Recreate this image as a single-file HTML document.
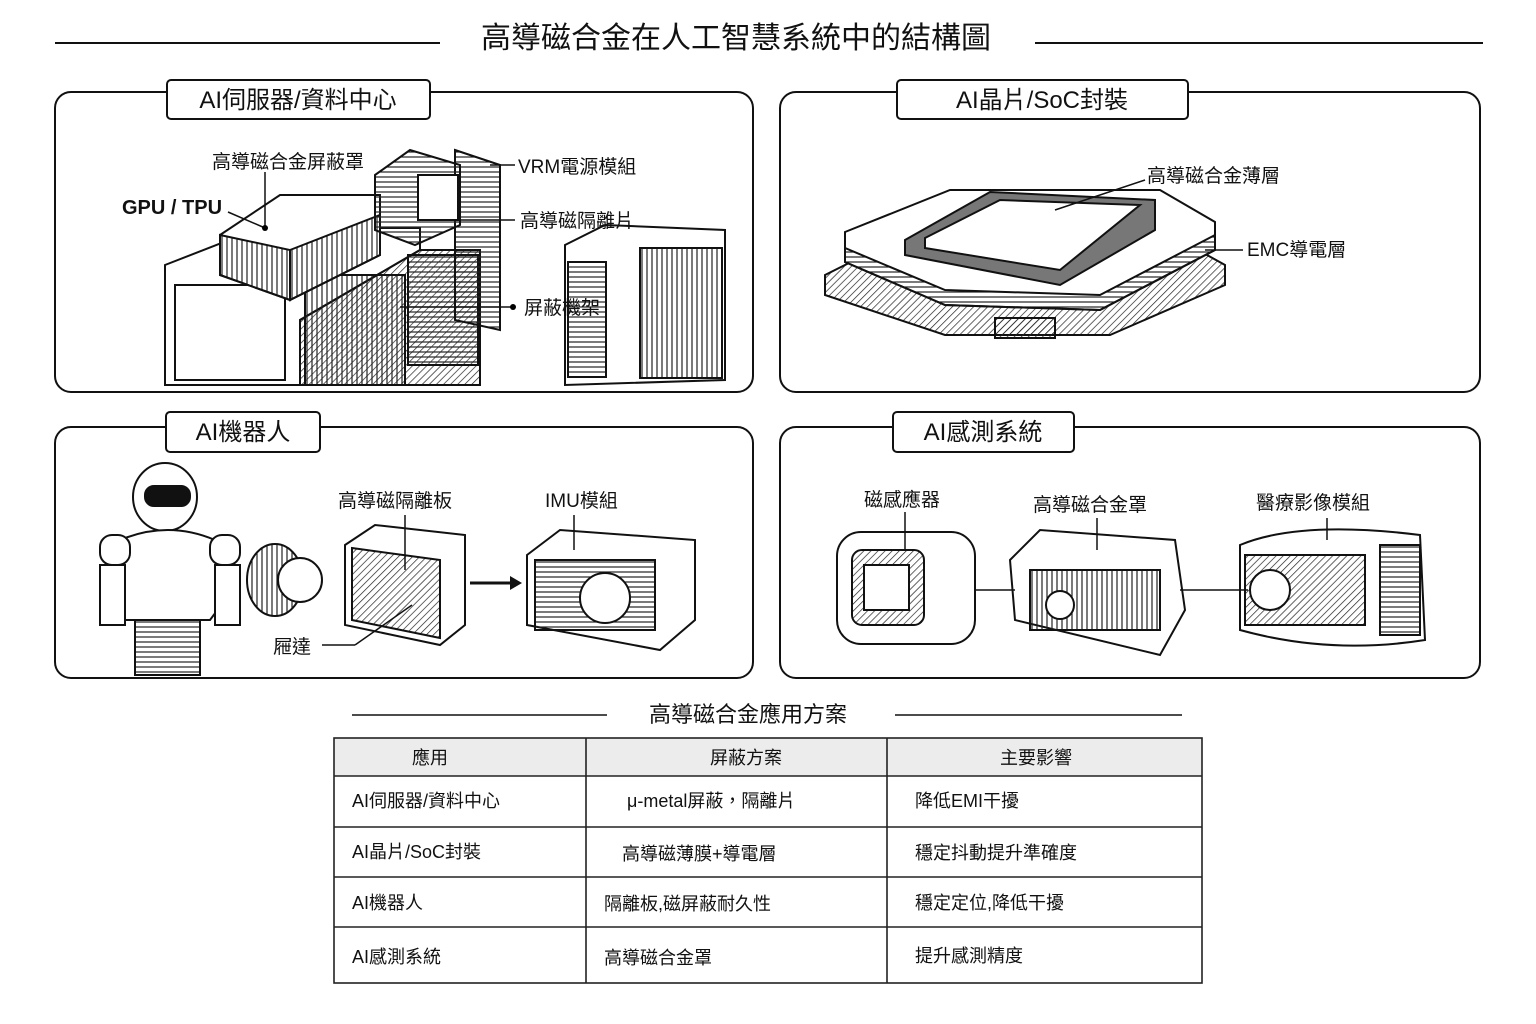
<!DOCTYPE html>
<html><head><meta charset="utf-8"><style>
html,body{margin:0;padding:0;background:#fff;}
svg{display:block;}
text{font-family:"Liberation Sans","Noto Sans CJK TC",sans-serif;fill:#111;}
</style></head><body>
<svg width="1536" height="1024" viewBox="0 0 1536 1024" xmlns="http://www.w3.org/2000/svg">
<defs>
<pattern id="h" width="5" height="5" patternUnits="userSpaceOnUse" patternTransform="rotate(45)"><line x1="0" y1="0" x2="0" y2="5" stroke="#222" stroke-width="1.4"/></pattern>
<pattern id="v" width="5" height="5" patternUnits="userSpaceOnUse"><line x1="0" y1="2" x2="5" y2="2" stroke="#222" stroke-width="1.2"/></pattern>
<pattern id="vv" width="5" height="5" patternUnits="userSpaceOnUse"><line x1="2" y1="0" x2="2" y2="5" stroke="#222" stroke-width="1.2"/></pattern>
</defs>
<!-- title -->
<line x1="55" y1="43" x2="440" y2="43" stroke="#111" stroke-width="2"/>
<line x1="1035" y1="43" x2="1483" y2="43" stroke="#111" stroke-width="2"/>
<text x="736" y="48" font-size="30" text-anchor="middle">高導磁合金在人工智慧系統中的結構圖</text>

<g fill="none" stroke="#111" stroke-width="2">
<rect x="55" y="92" width="698" height="300" rx="16"/>
<rect x="780" y="92" width="700" height="300" rx="16"/>
<rect x="55" y="427" width="698" height="251" rx="16"/>
<rect x="780" y="427" width="700" height="251" rx="16"/>
</g>
<g fill="#fff" stroke="#111" stroke-width="2">
<rect x="167" y="80" width="263" height="39" rx="4"/>
<rect x="897" y="80" width="291" height="39" rx="4"/>
<rect x="166" y="412" width="154" height="40" rx="4"/>
<rect x="893" y="412" width="181" height="40" rx="4"/>
</g>
<text x="298" y="108" font-size="24" text-anchor="middle">AI伺服器/資料中心</text>
<text x="1042" y="108" font-size="24" text-anchor="middle">AI晶片/SoC封裝</text>
<text x="243" y="440" font-size="24" text-anchor="middle">AI機器人</text>
<text x="983" y="440" font-size="24" text-anchor="middle">AI感測系統</text>

<!-- Panel1 illustration -->
<g stroke="#111" stroke-width="2" fill="#fff">
<polygon points="165,265 260,228 420,228 420,250 300,320 300,385 165,385"/>
<polygon points="300,320 420,250 480,250 480,385 300,385" fill="url(#h)"/>
<rect x="305" y="275" width="100" height="110" fill="url(#vv)"/>
<rect x="408" y="255" width="70" height="110" fill="url(#v)"/>
<rect x="175" y="285" width="110" height="95"/>
<polygon points="455,150 500,165 500,330 455,320" fill="url(#v)"/>
<polygon points="220,235 280,195 380,195 380,255 290,300 220,275"/>
<polygon points="220,235 290,250 290,300 220,275" fill="url(#vv)"/>
<polygon points="290,250 380,215 380,255 290,300" fill="url(#vv)"/>
<polygon points="375,175 410,150 460,165 460,225 415,245 375,230" fill="url(#v)"/>
<rect x="418" y="175" width="40" height="45"/>
<polygon points="565,245 605,225 725,230 725,380 565,385"/>
<rect x="568" y="262" width="38" height="115" fill="url(#v)"/>
<rect x="640" y="248" width="82" height="130" fill="url(#vv)"/>
</g>
<g stroke="#111" stroke-width="1.5" fill="none">
<line x1="265" y1="172" x2="265" y2="228"/><line x1="228" y1="212" x2="265" y2="228"/>
<line x1="490" y1="165" x2="515" y2="165"/><line x1="455" y1="220" x2="515" y2="220"/>
<line x1="400" y1="307" x2="515" y2="307"/>
</g>
<circle cx="265" cy="228" r="3"/><circle cx="513" cy="307" r="3"/>
<text x="212" y="168" font-size="19">高導磁合金屏蔽罩</text>
<text x="122" y="214" font-size="20" font-weight="bold">GPU / TPU</text>
<text x="518" y="173" font-size="19">VRM電源模組</text>
<text x="520" y="227" font-size="19">高導磁隔離片</text>
<text x="524" y="314" font-size="19">屏蔽機架</text>

<!-- Panel2 -->
<g stroke="#111" stroke-width="2">
<polygon points="825,275 895,240 1180,240 1225,265 1225,285 1110,335 945,335 825,295" fill="url(#h)"/>
<polygon points="845,232 950,190 1160,190 1215,222 1215,250 1100,310 945,305 845,262" fill="#fff"/>
<polygon points="845,262 945,305 1100,310 1215,250 1215,235 1100,295 945,290 845,248" fill="url(#v)"/>
<polygon points="905,240 990,192 1155,200 1155,230 1060,285 905,255" fill="#777"/>
<polygon points="925,238 1000,200 1140,205 1060,270 925,248" fill="#fff"/>
<rect x="995" y="318" width="60" height="20" fill="url(#h)"/>
</g>
<line x1="1055" y1="210" x2="1145" y2="180" stroke="#111" stroke-width="1.5"/>
<line x1="1205" y1="250" x2="1243" y2="250" stroke="#111" stroke-width="1.5"/>
<text x="1147" y="182" font-size="19">高導磁合金薄層</text>
<text x="1247" y="256" font-size="19">EMC導電層</text>

<!-- Panel3 robot -->
<g stroke="#111" stroke-width="2" fill="#fff">
<ellipse cx="165" cy="497" rx="32" ry="34"/>
<rect x="145" y="486" width="45" height="20" rx="9" fill="#111"/>
<path d="M120,540 Q168,520 215,540 L225,600 L210,620 L125,620 L110,600 Z"/>
<rect x="100" y="535" width="30" height="30" rx="12"/><rect x="210" y="535" width="30" height="30" rx="12"/>
<rect x="100" y="565" width="25" height="60"/><rect x="215" y="565" width="25" height="60"/>
<rect x="135" y="620" width="65" height="55" fill="url(#v)"/>
<ellipse cx="275" cy="580" rx="28" ry="36" fill="url(#vv)"/>
<circle cx="300" cy="580" r="22"/>
<polygon points="345,545 375,525 465,535 465,625 440,645 345,625"/>
<polygon points="352,548 440,560 440,638 352,620" fill="url(#h)"/>
<polygon points="527,555 560,530 695,540 695,620 660,650 527,625"/>
<rect x="535" y="560" width="120" height="70" fill="url(#v)"/>
<ellipse cx="605" cy="598" rx="25" ry="25" fill="#fff"/>
</g>
<line x1="470" y1="583" x2="515" y2="583" stroke="#111" stroke-width="3"/>
<polygon points="522,583 510,576 510,590" fill="#111"/>
<g stroke="#111" stroke-width="1.5"><line x1="405" y1="515" x2="405" y2="570"/><line x1="574" y1="515" x2="574" y2="550"/><line x1="322" y1="645" x2="355" y2="645"/><line x1="355" y1="645" x2="412" y2="605"/></g>
<text x="338" y="507" font-size="19">高導磁隔離板</text>
<text x="545" y="507" font-size="19">IMU模組</text>
<text x="273" y="653" font-size="19">屜達</text>

<!-- Panel4 -->
<g stroke="#111" stroke-width="2" fill="#fff">
<rect x="837" y="532" width="138" height="112" rx="24"/>
<rect x="852" y="550" width="72" height="75" rx="10" fill="url(#h)"/>
<rect x="864" y="565" width="45" height="45" fill="#fff"/>
<polygon points="1010,560 1040,530 1175,540 1185,610 1160,655 1015,620"/>
<rect x="1030" y="570" width="130" height="60" fill="url(#vv)"/>
<circle cx="1060" cy="605" r="14"/>
<path d="M1240,545 Q1300,520 1420,535 L1425,640 Q1330,655 1240,630 Z"/>
<rect x="1380" y="545" width="40" height="90" fill="url(#v)"/>
<rect x="1245" y="555" width="120" height="70" fill="url(#h)"/>
<circle cx="1270" cy="590" r="20"/>
</g>
<g stroke="#111" stroke-width="1.5"><line x1="975" y1="590" x2="1015" y2="590"/><line x1="1180" y1="590" x2="1248" y2="590"/><line x1="905" y1="512" x2="905" y2="550"/><line x1="1097" y1="518" x2="1097" y2="550"/><line x1="1327" y1="518" x2="1327" y2="540"/></g>
<text x="864" y="506" font-size="19">磁感應器</text>
<text x="1033" y="511" font-size="19">高導磁合金罩</text>
<text x="1256" y="509" font-size="19">醫療影像模組</text>

<!-- subtitle -->
<line x1="352" y1="715" x2="607" y2="715" stroke="#111" stroke-width="1.5"/>
<line x1="895" y1="715" x2="1182" y2="715" stroke="#111" stroke-width="1.5"/>
<text x="748" y="722" font-size="22" text-anchor="middle">高導磁合金應用方案</text>

<!-- table -->
<rect x="334" y="738" width="868" height="38" fill="#ececec"/>
<g stroke="#222" stroke-width="1.6" fill="none">
<rect x="334" y="738" width="868" height="245"/>
<line x1="334" y1="776" x2="1202" y2="776"/><line x1="334" y1="827" x2="1202" y2="827"/>
<line x1="334" y1="877" x2="1202" y2="877"/><line x1="334" y1="927" x2="1202" y2="927"/>
<line x1="586" y1="738" x2="586" y2="983"/><line x1="887" y1="738" x2="887" y2="983"/>
</g>
<g font-size="18">
<text x="430" y="764" text-anchor="middle">應用</text>
<text x="746" y="764" text-anchor="middle">屏蔽方案</text>
<text x="1036" y="764" text-anchor="middle">主要影響</text>
<text x="352" y="807">AI伺服器/資料中心</text>
<text x="627" y="807">μ-metal屏蔽，隔離片</text>
<text x="915" y="807">降低EMI干擾</text>
<text x="352" y="858">AI晶片/SoC封裝</text>
<text x="622" y="860">高導磁薄膜+導電層</text>
<text x="915" y="859">穩定抖動提升準確度</text>
<text x="352" y="909">AI機器人</text>
<text x="604" y="910">隔離板,磁屏蔽耐久性</text>
<text x="915" y="909">穩定定位,降低干擾</text>
<text x="352" y="963">AI感測系統</text>
<text x="604" y="964">高導磁合金罩</text>
<text x="915" y="962">提升感測精度</text>
</g>
</svg>
</body></html>
